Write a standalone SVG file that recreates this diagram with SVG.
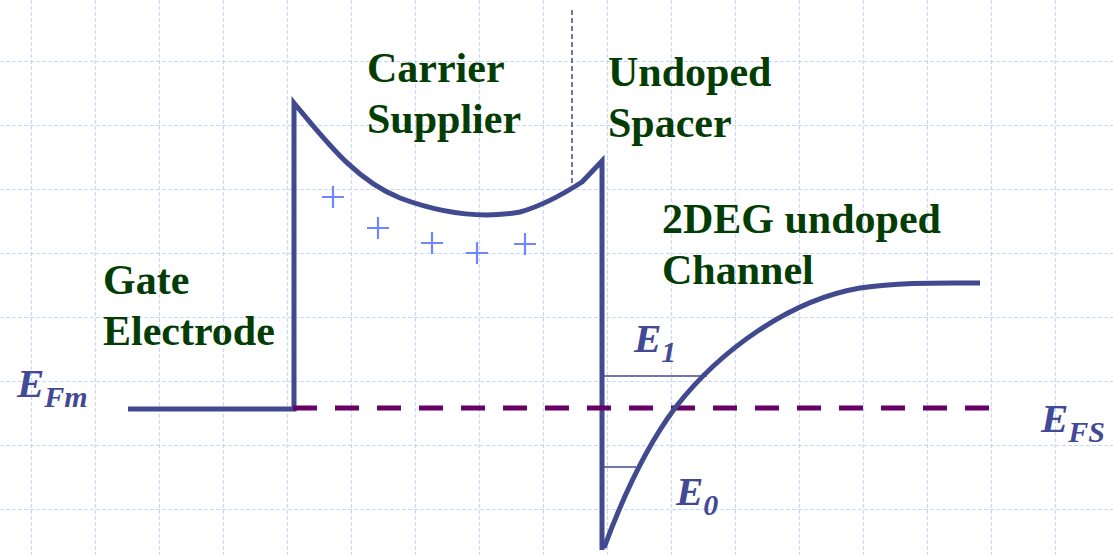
<svg xmlns="http://www.w3.org/2000/svg" width="1113" height="555" viewBox="0 0 1113 555">
<style>
.grid{stroke:#c9d6ff;stroke-width:1.2;stroke-dasharray:4 2;fill:none}
.band{stroke:#414a8f;stroke-width:5;fill:none;stroke-linejoin:miter}
.lbl{font-family:"Liberation Serif",serif;font-weight:bold;font-size:42px;fill:#033d03}
.sym{font-family:"Liberation Serif",serif;font-weight:bold;font-style:italic;fill:#434a95}
.plus{stroke:#6f86ff;stroke-width:2.2}
</style>
<rect width="1113" height="555" fill="#fff"/>
<g id="grid" class="grid">
<path d="M31.5,0V555M95.5,0V555M159.5,0V555M223.5,0V555M287.5,0V555M351.5,0V555M415.5,0V555M479.5,0V555M543.5,0V555M607.5,0V555M671.5,0V555M735.5,0V555M799.5,0V555M863.5,0V555M927.5,0V555M991.5,0V555M1055.5,0V555"/>
<path d="M0,61.5H1113M0,125.5H1113M0,189.5H1113M0,253.5H1113M0,317.5H1113M0,381.5H1113M0,445.5H1113M0,509.5H1113"/>
</g>
<g id="connectors">
<line x1="572" y1="10" x2="572" y2="186" stroke="#414a8f" stroke-width="1.5" stroke-dasharray="5 3"/>
<path class="band" d="M128,409 H294 V103 C325,140 355,180 400,198 C440,213 480,219 520,212 C545,205 565,193 582,182 L602,161 V550"/>
<line x1="293" y1="408" x2="1000" y2="408" stroke="#660066" stroke-width="5" stroke-dasharray="24 18"/>
<path class="band" d="M604,548 C618,510 640,455 675,408 C720,350 790,300 860,288 C900,282 940,283 980,283"/>
<line x1="604" y1="376" x2="707" y2="376" stroke="#414a8f" stroke-width="1.5"/>
<line x1="604" y1="467" x2="636" y2="467" stroke="#414a8f" stroke-width="1.5"/>
</g>
<g id="charges" class="plus">
<path d="M322,197h22M333,186v22"/>
<path d="M367,228h22M378,217v22"/>
<path d="M421,243h22M432,232v22"/>
<path d="M466,253h22M477,242v22"/>
<path d="M514,244h22M525,233v22"/>
</g>
<g id="carrier-supplier"><text class="lbl" x="367" y="82">Carrier</text><text class="lbl" x="367" y="133">Supplier</text></g>
<g id="undoped-spacer"><text class="lbl" x="608" y="86">Undoped</text><text class="lbl" x="608" y="137">Spacer</text></g>
<g id="gate-electrode"><text class="lbl" x="103" y="294">Gate</text><text class="lbl" x="103" y="345">Electrode</text></g>
<g id="channel"><text class="lbl" x="662" y="233">2DEG undoped</text><text class="lbl" x="662" y="284">Channel</text></g>
<g id="efm"><text class="sym" x="17" y="397" font-size="41">E<tspan font-size="30" dy="10">Fm</tspan></text></g>
<g id="efs"><text class="sym" x="1041" y="432" font-size="41">E<tspan font-size="30" dy="10">FS</tspan></text></g>
<g id="e1"><text class="sym" x="634" y="352" font-size="41">E<tspan font-size="30" dy="10">1</tspan></text></g>
<g id="e0"><text class="sym" x="676" y="505" font-size="41">E<tspan font-size="30" dy="10">0</tspan></text></g>
</svg>
